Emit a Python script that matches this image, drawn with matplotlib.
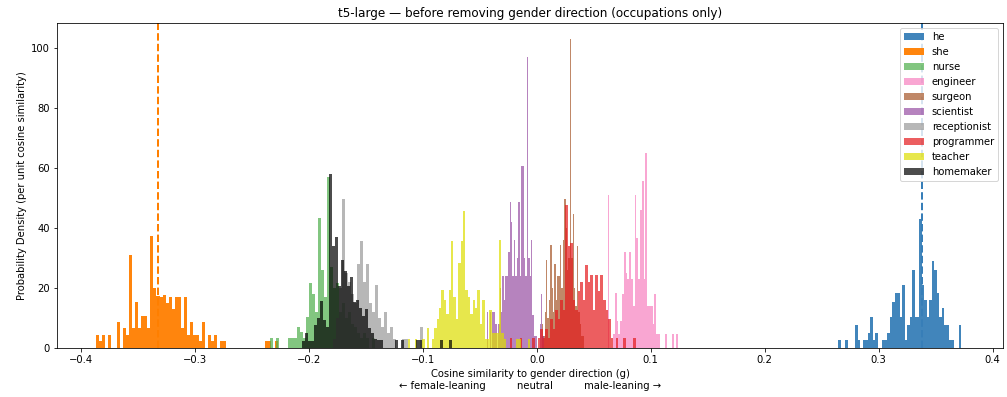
import numpy as np
import matplotlib.pyplot as plt

# ─── data ─────────────────────────────────────────────────────────────────
# per word: (first bin edge, last bin edge) in cosine similarity + densities per bin
words = ["he", "she", "nurse", "engineer", "surgeon", "scientist",
         "receptionist", "programmer", "teacher", "homemaker"]

he_range = (0.2643, 0.3725)
he_density = [2.6, 0, 0, 2.6, 0, 0, 0, 7.6, 2.6, 0,
              2.6, 2.6, 5, 10.4, 2.6, 5, 0, 0, 2.6, 2.6,
              5, 10.4, 15.4, 18.2, 18.2, 10.4, 21, 2.6, 7.6, 10.4,
              26, 10.4, 10.4, 43, 21, 16, 10.4, 16, 28.9, 26,
              18.2, 10.4, 13.2, 7.6, 7.6, 2.6, 2.6, 0, 0, 7.6]

she_range = (-0.3868, -0.2275)
she_density = [4.3, 2.2, 4.3, 0, 4.3, 0, 0, 8.7, 0, 6.5,
               4.3, 30.8, 6.5, 15.2, 6.5, 10.8, 10.8, 6.5, 37.3, 20,
               17.4, 17, 17.5, 15, 17, 13, 17, 17, 6.5, 17,
               4.3, 8.7, 4.3, 4.3, 2.2, 8.7, 0, 4.3, 2.2, 4.3,
               0, 2.2, 2.2, 0, 0, 0, 0, 0, 0, 0,
               0, 0, 0, 0, 0, 0, 2.2, 2.2, 0, 2.2]

nurse_range = (-0.2342, -0.1421)
nurse_density = [3.4, 0, 3.4, 0, 0, 0, 3.4, 3.4, 3.4, 7,
                 5.2, 3.4, 10.4, 21.6, 18, 12, 43.4, 26, 17, 57,
                 27, 20, 21.6, 12, 15, 10, 12, 8, 7, 5,
                 3.4, 5, 3.4, 0, 3.4]

engineer_range = (0.0605, 0.1237)
engineer_density = [0, 51, 0, 0, 4.5, 18.2, 9, 4.5, 9, 18,
                    32, 25, 23, 32, 23, 14, 51, 36.6, 23, 46,
                    55.6, 23, 64.9, 14, 14, 14, 8, 18, 4.5, 4.5,
                    0, 0, 0, 4.5, 0, 0, 0, 4.5, 0, 4.5]

surgeon_range = (0.0044, 0.0412)
surgeon_density = [8, 4, 12, 29.4, 10, 16, 34.3, 20, 12, 28,
                   16, 24, 24, 34.3, 20, 36, 49.5, 40, 26, 30,
                   103, 30, 44.6, 20, 14, 34, 12, 8, 4, 4]

scientist_range = (-0.0439, 0.0061)
scientist_density = [12, 0, 12, 0, 12, 12, 8, 0, 8, 20,
                     12, 24, 16, 24, 24, 32, 48.5, 42, 24, 36,
                     24, 30, 48.5, 24, 60.7, 60.7, 30, 24, 97, 30,
                     24, 36, 11, 4, 4, 0, 0, 8, 18, 4]

receptionist_range = (-0.1789, -0.1)
receptionist_density = [3, 10, 20, 49.6, 25, 22, 18, 15, 28, 35.6,
                        22, 28, 15, 12, 21, 10, 7, 12, 5, 7,
                        3, 0, 0, 3, 3, 0, 0, 0, 0, 7]

programmer_range = (-0.0237, 0.0868)
programmer_density = [3.2, 0, 0, 0, 3.2, 0, 0, 0, 0, 3.2,
                      0, 3.2, 6.4, 3.2, 6.4, 3.2, 9.6, 6.4, 12.8, 9.6,
                      16, 12.8, 47.7, 34, 35, 16, 12.8, 19, 22, 16,
                      27.6, 22, 24.3, 12.8, 24.3, 19, 24.3, 16, 12.8, 9.6,
                      3.2, 0, 3.2, 0, 0, 3.2, 0, 0, 0, 3.2]

teacher_range = (-0.1132, -0.0037)
teacher_density = [3.1, 0, 0, 3.1, 0, 0, 3.1, 0, 6.5, 0,
                   3.1, 6.5, 9.8, 13.2, 19.4, 16, 11.4, 19.4, 35.6, 17,
                   9.8, 28.3, 35.6, 45.6, 19.4, 17, 11.4, 16, 13.2, 19.4,
                   8, 16, 3.1, 3.1, 12.7, 5, 5, 5, 35.9, 5,
                   3.1, 0, 0, 0, 0, 3.1, 3.1, 0, 0, 0,
                   3.1, 0]

homemaker_range = (-0.2064, -0.0748)
homemaker_density = [2.2, 5, 2.2, 2.2, 7.6, 10, 15.7, 9.3, 7, 58,
                     34, 37, 20.5, 29.4, 25.5, 20.5, 23.6, 15.4, 16, 13.2,
                     10.6, 12.9, 6.5, 5, 3, 2.6, 2.6, 0, 0, 0,
                     0, 2.6, 0, 2.6, 0, 0, 0, 0, 2.6, 2.6,
                     0, 0, 0, 0, 0, 0, 2.6, 0, 0, 2.6]

# mean cosine of the pronouns (dashed lines)
he_mean = 0.3377
she_mean = -0.3325

colors = {
    "he": "#377eb8", "she": "#ff7f00", "nurse": "#4daf4a", "engineer": "#f781bf",
    "surgeon": "#a65628", "scientist": "#984ea3", "receptionist": "#999999",
    "programmer": "#e41a1c", "teacher": "#dede00", "homemaker": "black",
}

data = {
    "he": (he_range, he_density),
    "she": (she_range, she_density),
    "nurse": (nurse_range, nurse_density),
    "engineer": (engineer_range, engineer_density),
    "surgeon": (surgeon_range, surgeon_density),
    "scientist": (scientist_range, scientist_density),
    "receptionist": (receptionist_range, receptionist_density),
    "programmer": (programmer_range, programmer_density),
    "teacher": (teacher_range, teacher_density),
    "homemaker": (homemaker_range, homemaker_density),
}

# ─── figure ─────────────────────────────────────────────────────────────
fig, ax = plt.subplots(figsize=(1007 / 72, 397 / 72), dpi=72)
fig.subplots_adjust(left=0.0566, right=0.996, bottom=0.1234, top=0.942)

for w in words:
    (lo, hi), dens = data[w]
    edges = np.linspace(lo, hi, len(dens) + 1)
    alpha = 0.95 if w in ("he", "she") else 0.7
    ax.hist(edges[:-1], bins=edges, weights=dens, color=colors[w],
            alpha=alpha, label=w)

ax.axvline(he_mean, color=colors["he"], linestyle="--", linewidth=2)
ax.axvline(she_mean, color=colors["she"], linestyle="--", linewidth=2)

ax.set_xlim(-0.421, 0.409)
ax.set_title("t5-large — before removing gender direction (occupations only)")
ax.set_xlabel("Cosine similarity to gender direction (g)\n"
              "← female-leaning          neutral          male-leaning →")
ax.set_ylabel("Probability Density (per unit cosine similarity)")
ax.legend(loc="upper right")

fig.savefig("out.png", dpi=72)
